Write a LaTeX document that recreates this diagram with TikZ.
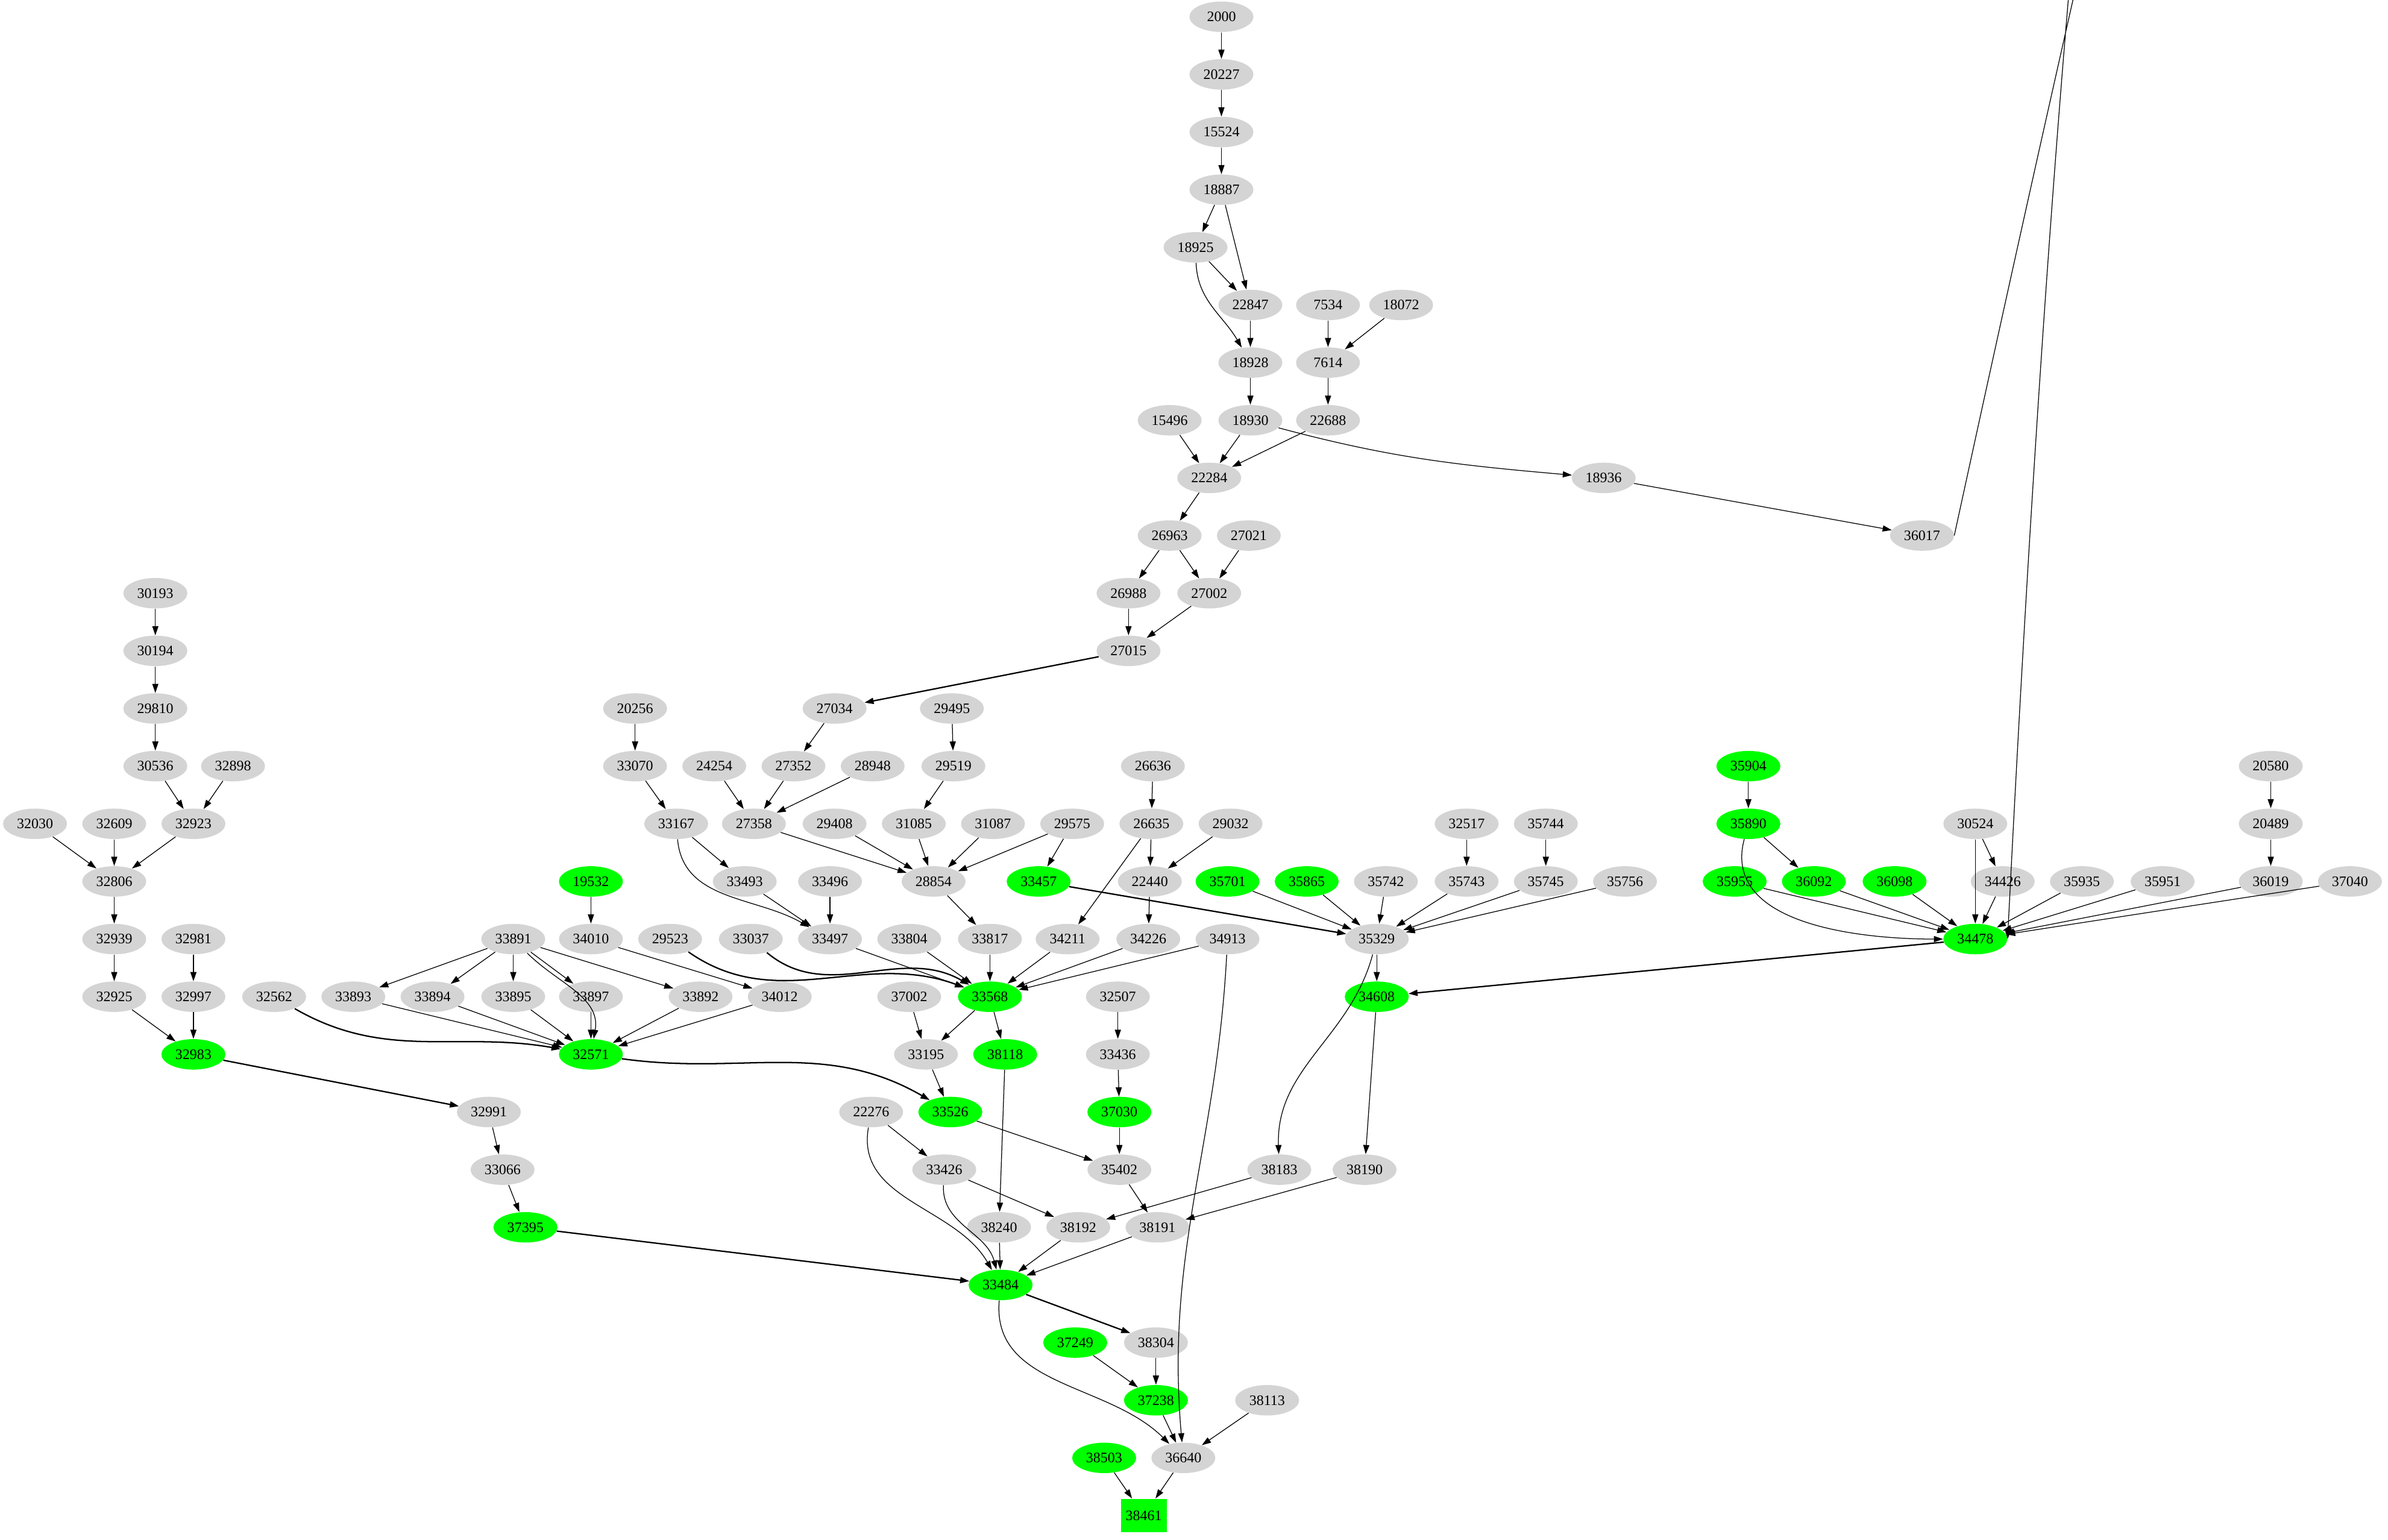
\documentclass[tikz,border=0pt]{standalone}
\usepackage{fontspec}
\setmainfont{Liberation Serif}
\usetikzlibrary{arrows.meta,shapes.geometric}
\newcommand\nd[4][gnode]{\node[#1] (n#2) at (#3,{-(11+37.85*#4)}) {#2};}
\begin{document}
\begin{tikzpicture}[x=1pt,y=1pt,
 gnode/.style={ellipse,fill=black!17,inner sep=0pt,minimum width=42pt,minimum height=20pt,font=\fontsize{9.5}{10}\selectfont},
 grn/.style={gnode,fill=green},
 bx/.style={rectangle,fill=green,inner sep=0pt,minimum width=30pt,minimum height=22pt,font=\fontsize{9.5}{10}\selectfont},
 e/.style={-{Triangle[length=6pt,width=4pt]},line width=0.5pt},
 eb/.style={e,line width=0.9pt}]
\useasboundingbox (0,0) rectangle (1568,-1011);
% rows 0-12
\nd{2000}{802}{0}
\nd{20227}{802}{1}
\nd{15524}{802}{2}
\nd{18887}{802}{3}
\nd{18925}{785}{4}
\nd{22847}{821}{5}\nd{7534}{872}{5}\nd{18072}{920}{5}
\nd{18928}{821}{6}\nd{7614}{872}{6}
\nd{15496}{768}{7}\nd{18930}{821}{7}\nd{22688}{872}{7}
\nd{22284}{794}{8}\nd{18936}{1053}{8}
\nd{26963}{768}{9}\nd{27021}{820}{9}\nd{36017}{1262}{9}
\nd{26988}{741}{10}\nd{27002}{794}{10}\nd{30193}{102}{10}
\nd{27015}{741}{11}\nd{30194}{102}{11}
\nd{27034}{548}{12}\nd{29495}{625}{12}\nd{20256}{417}{12}\nd{29810}{102}{12}
% row 13
\nd{30536}{102}{13}\nd{32898}{153}{13}\nd{33070}{417}{13}\nd{24254}{469}{13}\nd{27352}{521}{13}\nd{28948}{573}{13}\nd{29519}{626}{13}\nd{26636}{757}{13}\nd[grn]{35904}{1148}{13}\nd{20580}{1491}{13}
% row 14
\nd{32030}{23}{14}\nd{32609}{75}{14}\nd{32923}{127}{14}\nd{33167}{444}{14}\nd{27358}{495}{14}\nd{29408}{548}{14}\nd{31085}{600}{14}\nd{31087}{652}{14}\nd{29575}{704}{14}\nd{26635}{756}{14}\nd{29032}{808}{14}\nd{32517}{963}{14}\nd{35744}{1015}{14}\nd[grn]{35890}{1148}{14}\nd{30524}{1297}{14}\nd{20489}{1491}{14}
% row 15
\nd{32806}{75}{15}\nd[grn]{19532}{388}{15}\nd{33493}{489}{15}\nd{33496}{545}{15}\nd{28854}{613}{15}\nd[grn]{33457}{682}{15}\nd{22440}{755}{15}\nd[grn]{35701}{806}{15}\nd[grn]{35865}{858}{15}\nd{35742}{910}{15}\nd{35743}{963}{15}\nd{35745}{1015}{15}\nd{35756}{1067}{15}\nd[grn]{35955}{1139}{15}\nd[grn]{36092}{1191}{15}\nd[grn]{36098}{1244}{15}\nd{34426}{1315}{15}\nd{35935}{1367}{15}\nd{35951}{1420}{15}\nd{36019}{1491}{15}\nd{37040}{1543}{15}
% row 16
\nd{32939}{75}{16}\nd{32981}{127}{16}\nd{33891}{337}{16}\nd{34010}{388}{16}\nd{29523}{440}{16}\nd{33037}{493}{16}\nd{33497}{545}{16}\nd{33804}{597}{16}\nd{33817}{650}{16}\nd{34211}{701}{16}\nd{34226}{754}{16}\nd{34913}{806}{16}\nd{35329}{904}{16}\nd[grn]{34478}{1297}{16}
% row 17
\nd{32925}{75}{17}\nd{32997}{127}{17}\nd{32562}{180}{17}\nd{33893}{232}{17}\nd{33894}{284}{17}\nd{33895}{337}{17}\nd{33897}{388}{17}\nd{33892}{460}{17}\nd{34012}{512}{17}\nd{37002}{597}{17}\nd[grn]{33568}{650}{17}\nd{32507}{734}{17}\nd[grn]{34608}{904}{17}
% row 18
\nd[grn]{32983}{127}{18}\nd[grn]{32571}{388}{18}\nd{33195}{608}{18}\nd[grn]{38118}{660}{18}\nd{33436}{734}{18}
% row 19-26
\nd{32991}{321}{19}\nd{22276}{572}{19}\nd[grn]{33526}{624}{19}\nd[grn]{37030}{735}{19}
\nd{33066}{330}{20}\nd{33426}{620}{20}\nd{35402}{735}{20}\nd{38183}{840}{20}\nd{38190}{896}{20}
\nd[grn]{37395}{345}{21}\nd{38240}{656}{21}\nd{38192}{708}{21}\nd{38191}{760}{21}
\nd[grn]{33484}{657}{22}
\nd[grn]{37249}{706}{23}\nd{38304}{759}{23}
\nd[grn]{37238}{759}{24}\nd{38113}{832}{24}
\nd[grn]{38503}{725}{25}\nd{36640}{777}{25}
\nd[bx]{38461}{751}{26}
% edges
\foreach \a/\b in {2000/20227,20227/15524,15524/18887,18887/18925,18887/22847,18925/22847,22847/18928,7534/7614,18072/7614,18928/18930,7614/22688,15496/22284,18930/22284,22688/22284,22284/26963,26963/26988,26963/27002,27021/27002,26988/27015,27002/27015,27034/27352,29495/29519,20256/33070,30193/30194,30194/29810,29810/30536,30536/32923,32898/32923,32030/32806,32609/32806,32923/32806,32806/32939,32939/32925,32981/32997,32925/32983,32997/32983,32991/33066,33066/37395,33070/33167,24254/27358,27352/27358,28948/27358,29519/31085,33167/33493,27358/28854,29408/28854,31085/28854,31087/28854,29575/28854,29575/33457,26636/26635,26635/22440,29032/22440,26635/34211,33493/33497,33496/33497,28854/33817,22440/34226,35701/35329,35865/35329,35742/35329,35743/35329,35745/35329,35756/35329,32517/35743,35744/35745,35904/35890,35890/36092,30524/34478,30524/34426,35955/34478,36092/34478,36098/34478,34426/34478,35935/34478,35951/34478,36019/34478,37040/34478,20580/20489,20489/36019,35329/34608,34608/38190,19532/34010,34010/34012,33891/33893,33891/33894,33891/33895,33891/33897,33891/33892,33893/32571,33894/32571,33895/32571,33897/32571,33892/32571,34012/32571,33497/33568,33804/33568,33817/33568,34211/33568,34226/33568,34913/33568,37002/33195,33568/33195,33568/38118,32507/33436,33436/37030,33195/33526,33526/35402,37030/35402,22276/33426,33426/38192,38118/38240,38183/38192,38190/38191,35402/38191,38240/33484,38192/33484,38191/33484,37249/37238,38304/37238,37238/36640,38113/36640,38503/38461,36640/38461}
 \draw[e] (n\a) -- (n\b);
\foreach \a/\b in {27015/27034,33457/35329,34478/34608,32983/32991,37395/33484,33484/38304}
 \draw[eb] (n\a) -- (n\b);
\draw[e] (n18930) to[out=-15,in=175] (n18936);
\draw[e] (n18936) -- (n36017);
\draw[e] (n36017.east) .. controls (1440,370) and (1460,390) .. (1460,440) -- (1460,560) .. controls (1460,600) and (1380,615) .. (n34478.east);
\draw[e] (n18925) to[out=-88,in=120] (n18928);
\draw[e] (n33167) to[out=-85,in=150] (n33497);
\draw[e] (n35890) to[out=-105,in=180] (n34478.west);
\draw[e] (n33891) to[out=-45,in=80] (n32571);
\draw[eb] (n32562) to[out=-30,in=170] (n32571);
\draw[eb] (n29523) to[out=-35,in=160] (n33568);
\draw[eb] (n33037) to[out=-40,in=150] (n33568);
\draw[e] (n35329) to[out=-105,in=92] (n38183);
\draw[eb] (n32571) to[out=-8,in=150] (n33526);
\draw[e] (n22276) to[out=-100,in=120] (n33484);
\draw[e] (n33426) to[out=-93,in=105] (n33484);
\draw[e] (n33484) to[out=-95,in=135] (n36640);
\draw[e] (n34913) to[out=-93,in=95] (n36640);
\end{tikzpicture}
\end{document}
